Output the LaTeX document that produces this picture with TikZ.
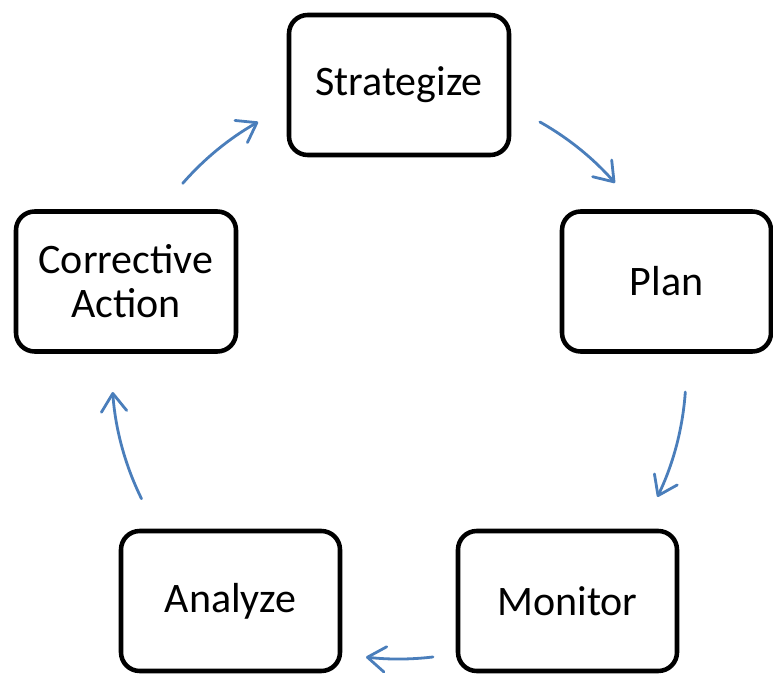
\documentclass[tikz,border=0pt]{standalone}
\usepackage{fontspec}
\setmainfont{Carlito}
\usetikzlibrary{arrows.meta,calc}
\definecolor{cycleblue}{RGB}{74,126,187}
\tikzset{
  stage/.style={draw=black, line width=3.4pt, rounded corners=14pt, fill=white,
    minimum height=105pt, align=center, inner sep=0pt,
    font=\fontsize{31.5}{33}\selectfont},
  cyclearrow/.style={draw=cycleblue, line width=2.1pt, line cap=round,
    -{Straight Barb[length=13.5pt, width=19pt, line cap=round, line join=round]}}
}
\begin{document}
\begin{tikzpicture}[x=0.75pt, y=0.75pt]
  \useasboundingbox (0,0) rectangle (773,675);
  % stages of the cycle
  \node[stage, minimum width=165pt]    (strat) at (399,590)   {Strategize};
  \node[stage, minimum width=156.75pt] (plan)  at (666.5,393.5) {Plan};
  \node[stage, minimum width=164.25pt] (mon)   at (567.5,74)  {Monitor};
  \node[stage, minimum width=164.25pt] (ana)   at (230.5,74)  {Analyze};
  \node[stage, minimum width=165pt]    (corr)  at (126,393.5) {Corrective\\Action};
  % arcs of the cycle, all on one circle
  \coordinate (ctr) at (399,303);
  \def\R{215.25pt}
  \coordinate (s1) at ($(ctr)+(60.6:\R)$);
  \coordinate (s2) at ($(ctr)+(-4:\R)$);
  \coordinate (s3) at ($(ctr)+(-83.2:\R)$);
  \coordinate (s4) at ($(ctr)+(206.2:\R)$);
  \coordinate (s5) at ($(ctr)+(138.9:\R)$);
  \draw[cyclearrow] (s1) arc[start angle=60.6,  end angle=41.2,  radius=\R];
  \draw[cyclearrow] (s2) arc[start angle=-4,    end angle=-25.8, radius=\R];
  \draw[cyclearrow] (s3) arc[start angle=-83.2, end angle=-96.6, radius=\R];
  \draw[cyclearrow] (s4) arc[start angle=206.2, end angle=184,   radius=\R];
  \draw[cyclearrow] (s5) arc[start angle=138.9, end angle=119.4, radius=\R];
\end{tikzpicture}
\end{document}
